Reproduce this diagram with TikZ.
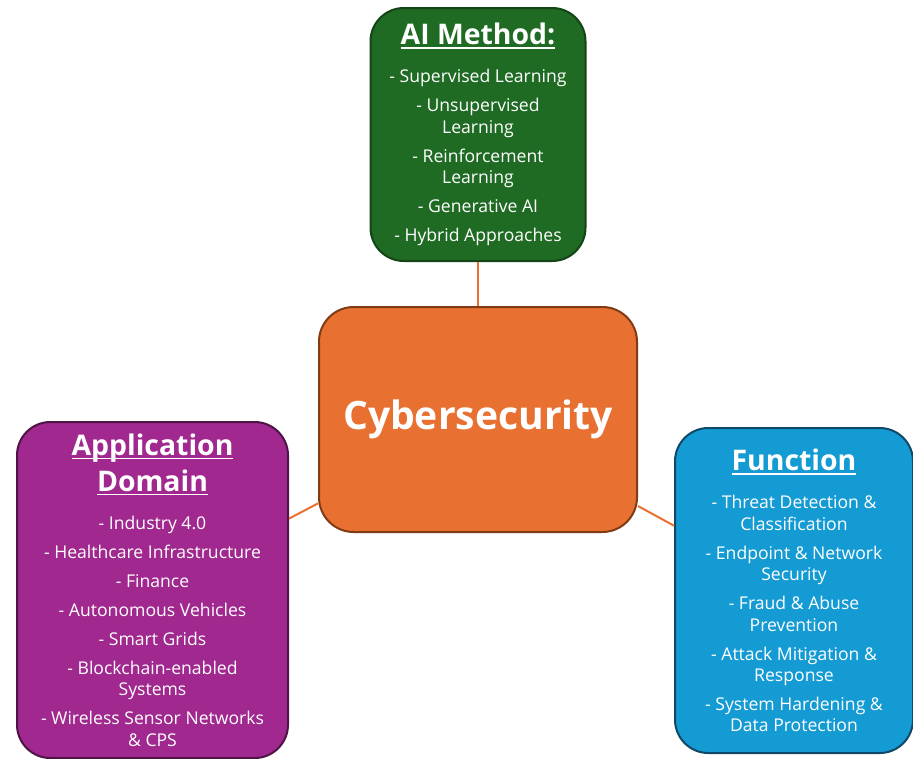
\documentclass[tikz,border=0pt]{standalone}
\usepackage{fontspec}
\setmainfont{Open Sans}
\usepackage{xcolor}
\usepackage{tikz}
\usetikzlibrary{positioning}

\definecolor{methodgreen}{RGB}{31,107,36}
\definecolor{methodedge}{RGB}{20,68,24}
\definecolor{hubfill}{RGB}{232,113,50}
\definecolor{hubedge}{RGB}{128,58,20}
\definecolor{domainfill}{RGB}{160,40,143}
\definecolor{domainedge}{RGB}{78,20,70}
\definecolor{funcfill}{RGB}{20,155,212}
\definecolor{funcedge}{RGB}{16,72,102}

% heading with a flat underline at a fixed depth
\newcommand{\heading}[1]{\setbox0\hbox{#1}\rlap{\rule[-3pt]{\wd0}{1.2pt}}\box0}
\newcommand{\headfont}{\fontsize{21.3pt}{25.5pt}\selectfont\bfseries}

\begin{document}
\begin{tikzpicture}[
    x=0.75pt, y=-0.75pt,
    hub/.style={rectangle, rounded corners=26pt, draw=hubedge, fill=hubfill, line width=1.5pt,
        minimum width=238.5pt, minimum height=168.75pt, text=white,
        font=\fontsize{29.3pt}{34pt}\selectfont\bfseries},
    branch/.style={rectangle, rounded corners=25pt, line width=1.5pt, text=white, align=center,
        font=\fontsize{13.2pt}{16.1pt}\selectfont},
    link/.style={draw=hubfill, line width=1.5pt}
]
    \useasboundingbox (0,0) rectangle (913,758);

    \node[hub] (cyber) at (478,419.5) {Cybersecurity};

    \node[branch, fill=methodgreen, draw=methodedge, minimum width=161.25pt, minimum height=189.75pt,
        above=33pt of cyber] (method) {%
        {\headfont\heading{AI Method:}}\\[12.6pt]
        - Supervised Learning\\[5.6pt]
        - Unsupervised\\Learning\\[5.6pt]
        - Reinforcement\\Learning\\[5.6pt]
        - Generative AI\\[5.6pt]
        - Hybrid Approaches};

    \node[branch, fill=domainfill, draw=domainedge, minimum width=203.25pt, minimum height=252pt]
        (domain) at (152.5,590) {%
        {\headfont\heading{Application}}\\[4.6pt]
        {\headfont\heading{Domain}}\\[12.6pt]
        - Industry 4.0\\[5.6pt]
        - Healthcare Infrastructure\\[5.6pt]
        - Finance\\[5.6pt]
        - Autonomous Vehicles\\[5.6pt]
        - Smart Grids\\[5.6pt]
        - Blockchain-enabled\\Systems\\[5.6pt]
        - Wireless Sensor Networks\\\& CPS};

    \node[branch, fill=funcfill, draw=funcedge, minimum width=178.5pt, minimum height=243.75pt]
        (func) at (794,590.5) {%
        {\headfont\heading{Function}}\\[12.6pt]
        - Threat Detection \&\\Classification\\[5.6pt]
        - Endpoint \& Network\\Security\\[5.6pt]
        - Fraud \& Abuse\\Prevention\\[5.6pt]
        - Attack Mitigation \&\\Response\\[5.6pt]
        - System Hardening \&\\Data Protection};

    % spokes from the hub
    \draw[link] (cyber) -- (method);
    \draw[link] (cyber) -- (domain);
    \draw[link] (cyber) -- (func);

\end{tikzpicture}
\end{document}
